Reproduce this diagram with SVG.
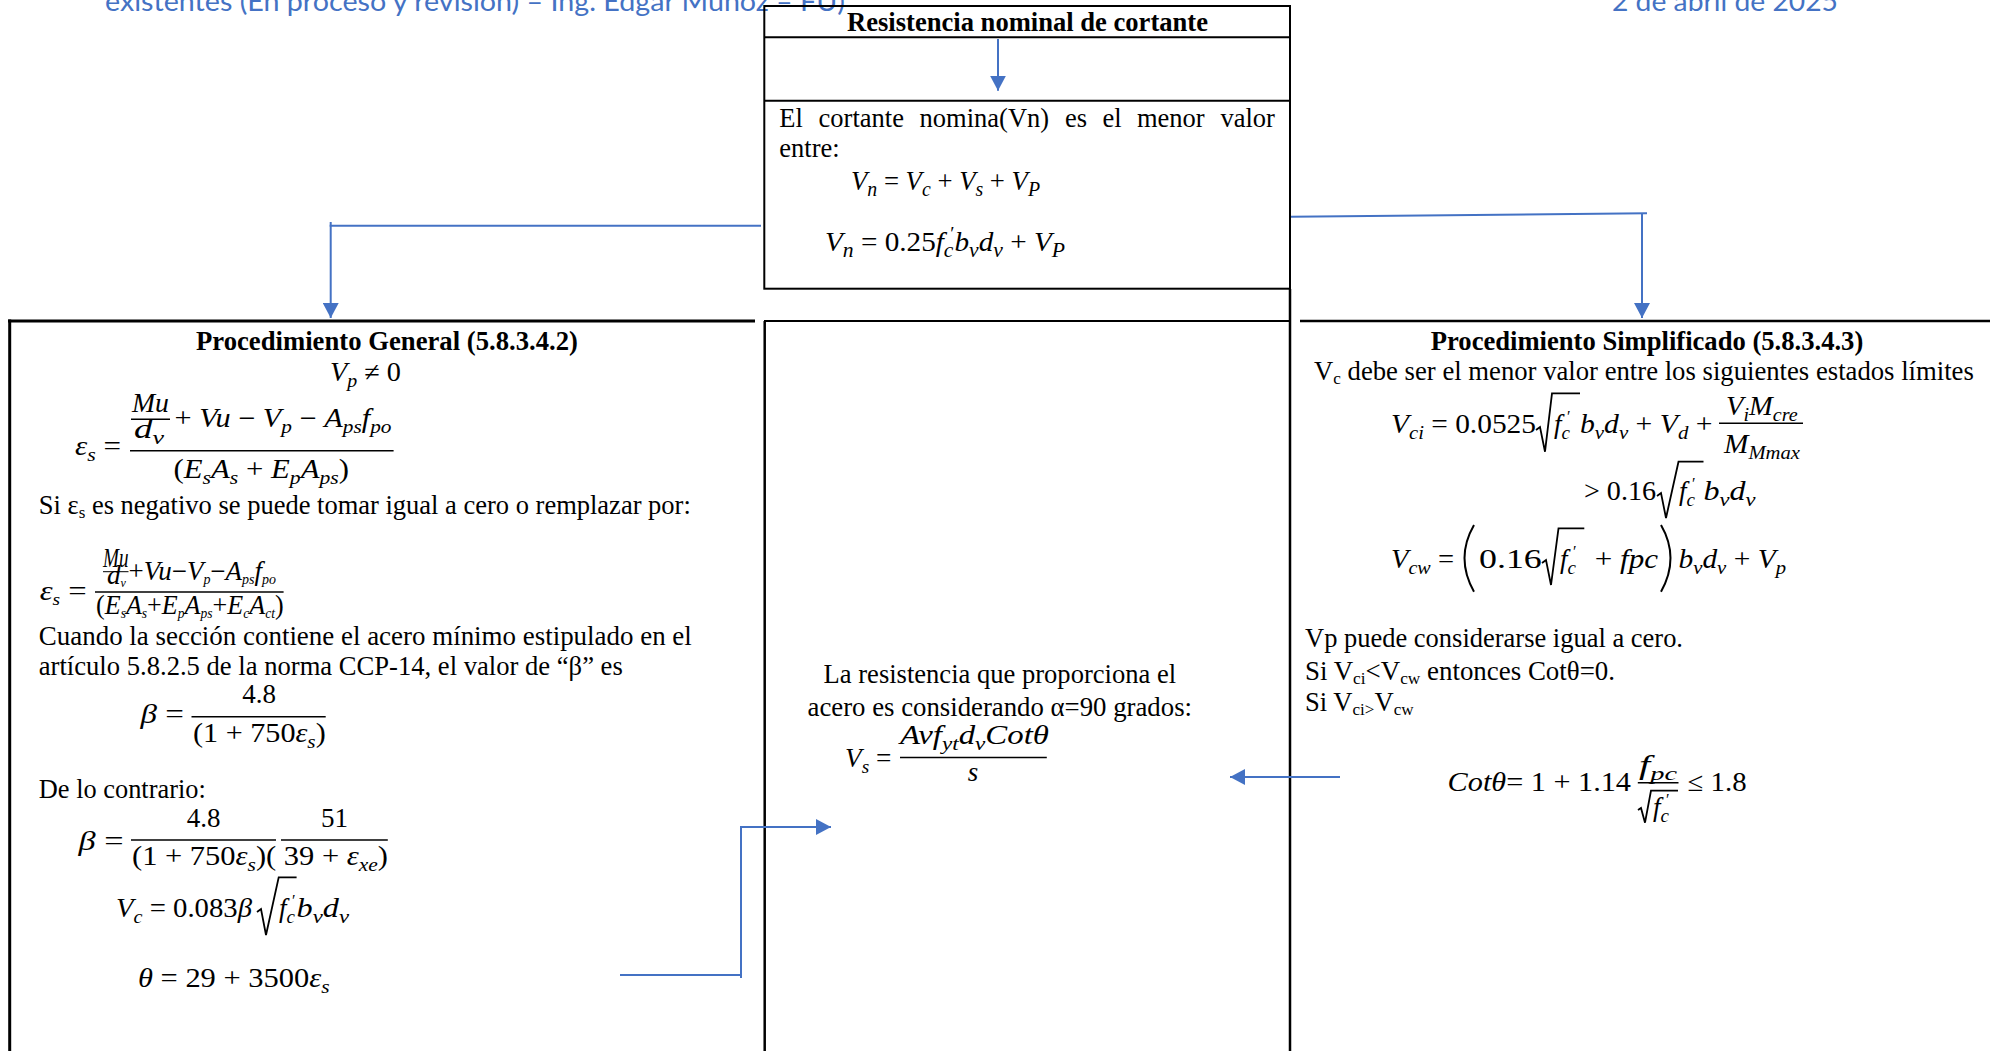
<svg xmlns="http://www.w3.org/2000/svg" width="1990" height="1051" viewBox="0 0 1990 1051">
<style>
.t{font-family:"Liberation Serif","Times New Roman",serif;font-size:26.5px;fill:#000}
.b{font-weight:bold}
.m{font-family:"Liberation Serif","Times New Roman",serif;font-style:italic;font-size:27px;fill:#000}
.u{font-style:normal}
.hd{font-family:Lato,"Open Sans",sans-serif;font-size:26px;fill:#4472C4}
.bx{fill:none;stroke:#000;stroke-width:2}
.ln{stroke:#000;fill:none}
.fr{stroke:#000;stroke-width:1.5}
.rad{fill:none;stroke:#000;stroke-width:1.8;stroke-linejoin:miter}
.cn{stroke:#4472C4;stroke-width:2;fill:none}
</style>
<defs>
<marker id="ah" markerUnits="userSpaceOnUse" markerWidth="16" markerHeight="16" refX="15" refY="8" orient="auto"><path d="M0,0 L15,8 L0,16 Z" fill="#4472C4"/></marker>
</defs>
<rect width="1990" height="1051" fill="#fff"/>

<g id="page-header">
<text class="hd" x="105" y="10.7" textLength="740" lengthAdjust="spacingAndGlyphs">existentes (En proceso y revisión) – Ing. Edgar Muñoz – FU)</text>
<text class="hd" x="1612" y="10.7" textLength="226" lengthAdjust="spacingAndGlyphs">2 de abril de 2025</text>
</g>

<g id="node-resistencia-nominal">
<rect class="bx" x="764.3" y="6" width="525.7" height="282.7"/>
<line class="ln" stroke-width="2" x1="764.3" y1="37.3" x2="1290" y2="37.3"/>
<line class="ln" stroke-width="2" x1="764.3" y1="100.7" x2="1290" y2="100.7"/>
<text class="t b" x="1027.5" y="30.5" text-anchor="middle" textLength="361" lengthAdjust="spacingAndGlyphs">Resistencia nominal de cortante</text>
<text class="t" y="126.7"><tspan x="779.3">El</tspan><tspan x="818.6">cortante</tspan><tspan x="919.6">nomina(Vn)</tspan><tspan x="1065">es</tspan><tspan x="1102.5">el</tspan><tspan x="1137">menor</tspan><tspan x="1220.4">valor</tspan></text>
<text class="t" x="779.3" y="156.7">entre:</text>
<text class="m" x="851" y="190" font-size="29" textLength="189" lengthAdjust="spacingAndGlyphs">V<tspan dy="6" font-size="20">n</tspan><tspan dy="-6" class="u"> = </tspan>V<tspan dy="6" font-size="20">c</tspan><tspan dy="-6" class="u"> + </tspan>V<tspan dy="6" font-size="20">s</tspan><tspan dy="-6" class="u"> + </tspan>V<tspan dy="6" font-size="20">P</tspan></text>
<text class="m" x="825" y="250.7" font-size="29" textLength="240" lengthAdjust="spacingAndGlyphs">V<tspan dy="6" font-size="20">n</tspan><tspan dy="-6" class="u"> = 0.25</tspan>f<tspan font-size="20" dy="6">c</tspan><tspan class="u" font-size="18" dx="-3" dy="-17">′</tspan><tspan dy="11">b</tspan><tspan dy="6" font-size="20">v</tspan><tspan dy="-6">d</tspan><tspan dy="6" font-size="20">v</tspan><tspan dy="-6" class="u"> + </tspan>V<tspan dy="6" font-size="20">P</tspan></text>
</g>

<g id="node-procedimiento-general">
<line class="ln" stroke-width="3" x1="8" y1="321" x2="755" y2="321"/>
<line class="ln" stroke-width="3" x1="9.7" y1="319.5" x2="9.7" y2="1051"/>
<text class="t b" x="387" y="350" text-anchor="middle" textLength="382" lengthAdjust="spacingAndGlyphs">Procedimiento General (5.8.3.4.2)</text>
<text class="m" x="330" y="380.7" textLength="71" lengthAdjust="spacingAndGlyphs">V<tspan dy="6" font-size="19">p</tspan><tspan dy="-6" class="u"> ≠ 0</tspan></text>
<text class="m" x="75" y="455" textLength="46" lengthAdjust="spacingAndGlyphs">ε<tspan dy="6" font-size="19">s</tspan><tspan dy="-6" class="u"> =</tspan></text>
<line class="fr" x1="130" y1="450.7" x2="393.6" y2="450.7"/>
<text class="m" x="132" y="411.7" textLength="37" lengthAdjust="spacingAndGlyphs">Mu</text>
<line class="fr" x1="131" y1="419.3" x2="170" y2="419.3"/>
<text class="m" x="134" y="438" textLength="30" lengthAdjust="spacingAndGlyphs">d<tspan dy="6" font-size="19">v</tspan></text>
<text class="m" x="174.5" y="426.7" textLength="217" lengthAdjust="spacingAndGlyphs"><tspan class="u">+ </tspan>Vu<tspan class="u"> − </tspan>V<tspan dy="6" font-size="19">p</tspan><tspan dy="-6" class="u"> − </tspan>A<tspan dy="6" font-size="19">ps</tspan><tspan dy="-6">f</tspan><tspan dy="6" font-size="19">po</tspan></text>
<text class="m" x="173.5" y="478" textLength="175.5" lengthAdjust="spacingAndGlyphs"><tspan class="u">(</tspan>E<tspan dy="6" font-size="19">s</tspan><tspan dy="-6">A</tspan><tspan dy="6" font-size="19">s</tspan><tspan dy="-6" class="u"> + </tspan>E<tspan dy="6" font-size="19">p</tspan><tspan dy="-6">A</tspan><tspan dy="6" font-size="19">ps</tspan><tspan dy="-6" class="u">)</tspan></text>
<text class="t" x="38.8" y="514" textLength="652" lengthAdjust="spacingAndGlyphs">Si ε<tspan font-size="17" dy="4">s</tspan><tspan dy="-4"> es negativo se puede tomar igual a cero o remplazar por:</tspan></text>
<text class="m" x="39.7" y="600" font-size="22" textLength="47" lengthAdjust="spacingAndGlyphs">ε<tspan dy="5" font-size="16">s</tspan><tspan dy="-5" class="u"> =</tspan></text>
<line class="ln" stroke-width="1.3" x1="95" y1="592" x2="283.6" y2="592"/>
<text class="m" x="103" y="567" font-size="15" textLength="25.5" lengthAdjust="spacingAndGlyphs">Mu</text>
<line class="ln" stroke-width="1" x1="103" y1="571.7" x2="128.5" y2="571.7"/>
<text class="m" x="107" y="584" font-size="15" textLength="19" lengthAdjust="spacingAndGlyphs">d<tspan dy="3" font-size="12">v</tspan></text>
<text class="m" x="128.5" y="580" font-size="18" textLength="147.5" lengthAdjust="spacingAndGlyphs"><tspan class="u">+</tspan>Vu<tspan class="u">−</tspan>V<tspan dy="4" font-size="14">p</tspan><tspan dy="-4" class="u">−</tspan>A<tspan dy="4" font-size="14">ps</tspan><tspan dy="-4">f</tspan><tspan dy="4" font-size="14">po</tspan></text>
<text class="m" x="96" y="614" font-size="18" textLength="187.6" lengthAdjust="spacingAndGlyphs"><tspan class="u">(</tspan>E<tspan dy="4" font-size="14">s</tspan><tspan dy="-4">A</tspan><tspan dy="4" font-size="14">s</tspan><tspan dy="-4" class="u">+</tspan>E<tspan dy="4" font-size="14">p</tspan><tspan dy="-4">A</tspan><tspan dy="4" font-size="14">ps</tspan><tspan dy="-4" class="u">+</tspan>E<tspan dy="4" font-size="14">c</tspan><tspan dy="-4">A</tspan><tspan dy="4" font-size="14">ct</tspan><tspan dy="-4" class="u">)</tspan></text>
<text class="t" x="38.8" y="645" textLength="653" lengthAdjust="spacingAndGlyphs">Cuando la sección contiene el acero mínimo estipulado en el</text>
<text class="t" x="38.8" y="675" textLength="584" lengthAdjust="spacingAndGlyphs">artículo 5.8.2.5 de la norma CCP-14, el valor de “β” es</text>
<text class="m" x="140.6" y="723" textLength="43.4" lengthAdjust="spacingAndGlyphs">β<tspan class="u"> =</tspan></text>
<line class="fr" x1="191.5" y1="716.7" x2="325.7" y2="716.7"/>
<text class="m u" x="259" y="703" text-anchor="middle">4.8</text>
<text class="m" x="193" y="741.7" textLength="132.7" lengthAdjust="spacingAndGlyphs"><tspan class="u">(1 + 750</tspan>ε<tspan dy="6" font-size="19">s</tspan><tspan dy="-6" class="u">)</tspan></text>
<text class="t" x="38.8" y="798" textLength="167" lengthAdjust="spacingAndGlyphs">De lo contrario:</text>
<text class="m" x="78.5" y="850" textLength="45" lengthAdjust="spacingAndGlyphs">β<tspan class="u"> =</tspan></text>
<line class="fr" x1="131" y1="840" x2="276" y2="840"/>
<line class="fr" x1="281" y1="840" x2="387.8" y2="840"/>
<text class="m u" x="203.6" y="826.7" text-anchor="middle">4.8</text>
<text class="m u" x="334.5" y="826.7" text-anchor="middle">51</text>
<text class="m" x="132" y="865" textLength="256" lengthAdjust="spacingAndGlyphs"><tspan class="u">(1 + 750</tspan>ε<tspan dy="6" font-size="19">s</tspan><tspan dy="-6" class="u">)( 39 + </tspan>ε<tspan dy="6" font-size="19">xe</tspan><tspan dy="-6" class="u">)</tspan></text>
<text class="m" x="116" y="916.7" textLength="136" lengthAdjust="spacingAndGlyphs">V<tspan dy="6" font-size="19">c</tspan><tspan dy="-6" class="u"> = 0.083</tspan>β</text>
<path class="rad" d="M257,912 l4,-3 L266,935 L278.7,877.3 L296.6,877.3"/>
<text class="m" x="279" y="916.7">f<tspan font-size="19" dy="6">c</tspan><tspan class="u" font-size="16" dx="-3" dy="-17">′</tspan></text>
<text class="m" x="296.6" y="916.7" textLength="52.4" lengthAdjust="spacingAndGlyphs">b<tspan dy="6" font-size="19">v</tspan><tspan dy="-6">d</tspan><tspan dy="6" font-size="19">v</tspan></text>
<text class="m" x="138" y="986.7" textLength="191.6" lengthAdjust="spacingAndGlyphs">θ<tspan class="u"> = 29 + 3500</tspan>ε<tspan dy="6" font-size="19">s</tspan></text>
</g>

<g id="node-acero">
<line class="ln" stroke-width="2" x1="764" y1="321" x2="1290" y2="321"/>
<line class="ln" stroke-width="2.5" x1="764.7" y1="321" x2="764.7" y2="1051"/>
<line class="ln" stroke-width="2.5" x1="1290" y1="289" x2="1290" y2="1051"/>
<text class="t" x="823.6" y="683" textLength="352.5" lengthAdjust="spacingAndGlyphs">La resistencia que proporciona el</text>
<text class="t" x="807.5" y="715.7" textLength="384.5" lengthAdjust="spacingAndGlyphs">acero es considerando α=90 grados:</text>
<text class="m" x="845" y="767" textLength="46.4" lengthAdjust="spacingAndGlyphs">V<tspan dy="6" font-size="19">s</tspan><tspan dy="-6" class="u"> =</tspan></text>
<line class="fr" x1="900" y1="757.4" x2="1046.8" y2="757.4"/>
<text class="m" x="900" y="744.4" textLength="149" lengthAdjust="spacingAndGlyphs">Avf<tspan dy="6" font-size="19">yt</tspan><tspan dy="-6">d</tspan><tspan dy="6" font-size="19">v</tspan><tspan dy="-6">Cotθ</tspan></text>
<text class="m" x="973" y="781" text-anchor="middle">s</text>
</g>

<g id="node-procedimiento-simplificado">
<line class="ln" stroke-width="2.5" x1="1300" y1="321" x2="1990" y2="321"/>
<text class="t b" x="1647" y="350" text-anchor="middle" textLength="432.5" lengthAdjust="spacingAndGlyphs">Procedimiento Simplificado (5.8.3.4.3)</text>
<text class="t" x="1314" y="380" textLength="659.8" lengthAdjust="spacingAndGlyphs">V<tspan font-size="17" dy="4">c</tspan><tspan dy="-4"> debe ser el menor valor entre los siguientes estados límites</tspan></text>
<text class="m" x="1391" y="433.3" textLength="145" lengthAdjust="spacingAndGlyphs">V<tspan dy="6" font-size="19">ci</tspan><tspan dy="-6" class="u"> = 0.0525</tspan></text>
<path class="rad" d="M1536,430 l4,-3 L1545,451.7 L1552,393.3 L1580,393.3"/>
<text class="m" x="1554" y="433.3">f<tspan font-size="19" dy="6">c</tspan><tspan class="u" font-size="16" dx="-3" dy="-17">′</tspan></text>
<text class="m" x="1580" y="433.3" textLength="132.5" lengthAdjust="spacingAndGlyphs">b<tspan dy="6" font-size="19">v</tspan><tspan dy="-6">d</tspan><tspan dy="6" font-size="19">v</tspan><tspan dy="-6" class="u"> + </tspan>V<tspan dy="6" font-size="19">d</tspan><tspan dy="-6" class="u"> +</tspan></text>
<line class="fr" x1="1719" y1="423.3" x2="1803" y2="423.3"/>
<text class="m" x="1726" y="415" textLength="71.7" lengthAdjust="spacingAndGlyphs">V<tspan dy="6" font-size="19">i</tspan><tspan dy="-6">M</tspan><tspan dy="6" font-size="19">cre</tspan></text>
<text class="m" x="1724" y="452.7" textLength="76" lengthAdjust="spacingAndGlyphs">M<tspan dy="6" font-size="19">Mmax</tspan></text>
<text class="m u" x="1584" y="500" textLength="72" lengthAdjust="spacingAndGlyphs">&gt; 0.16</text>
<path class="rad" d="M1657,496 l4,-3 L1666,518 L1678.5,461.7 L1703.5,461.7"/>
<text class="m" x="1679" y="500">f<tspan font-size="19" dy="6">c</tspan><tspan class="u" font-size="16" dx="-3" dy="-17">′</tspan></text>
<text class="m" x="1703.5" y="500" textLength="52" lengthAdjust="spacingAndGlyphs">b<tspan dy="6" font-size="19">v</tspan><tspan dy="-6">d</tspan><tspan dy="6" font-size="19">v</tspan></text>
<text class="m" x="1391" y="568.3" textLength="63" lengthAdjust="spacingAndGlyphs">V<tspan dy="6" font-size="19">cw</tspan><tspan dy="-6" class="u"> =</tspan></text>
<path class="ln" stroke-width="2" d="M1474,525 Q1455,558 1474,591.7"/>
<text class="m u" x="1479" y="568.3" textLength="62.8" lengthAdjust="spacingAndGlyphs">0.16</text>
<path class="rad" d="M1542,563 l4,-3 L1551,585 L1558.5,528.3 L1584.3,528.3"/>
<text class="m" x="1560" y="568.3">f<tspan font-size="19" dy="6">c</tspan><tspan class="u" font-size="16" dx="-3" dy="-17">′</tspan></text>
<text class="m" x="1594.8" y="568.3" textLength="63.2" lengthAdjust="spacingAndGlyphs"><tspan class="u">+ </tspan>fpc</text>
<path class="ln" stroke-width="2" d="M1661,525 Q1680,558 1661,591.7"/>
<text class="m" x="1678.5" y="568.3" textLength="107.5" lengthAdjust="spacingAndGlyphs">b<tspan dy="6" font-size="19">v</tspan><tspan dy="-6">d</tspan><tspan dy="6" font-size="19">v</tspan><tspan dy="-6" class="u"> + </tspan>V<tspan dy="6" font-size="19">p</tspan></text>
<text class="t" x="1305" y="646.7" textLength="378" lengthAdjust="spacingAndGlyphs">Vp puede considerarse igual a cero.</text>
<text class="t" x="1305" y="680" textLength="310" lengthAdjust="spacingAndGlyphs">Si V<tspan font-size="17" dy="4">ci</tspan><tspan dy="-4">&lt;V</tspan><tspan font-size="17" dy="4">cw</tspan><tspan dy="-4"> entonces Cotθ=0.</tspan></text>
<text class="t" x="1305" y="710.7" textLength="108.6" lengthAdjust="spacingAndGlyphs">Si V<tspan font-size="17" dy="4">ci&gt;</tspan><tspan dy="-4">V</tspan><tspan font-size="17" dy="4">cw</tspan></text>
<text class="m" x="1447.6" y="790.7" textLength="183.4" lengthAdjust="spacingAndGlyphs">Cotθ<tspan class="u">= 1 + 1.14</tspan></text>
<line class="fr" x1="1637.8" y1="782.7" x2="1678.5" y2="782.7"/>
<text class="m" x="1639" y="774" textLength="38" lengthAdjust="spacingAndGlyphs">f<tspan dy="6" font-size="19">pc</tspan></text>
<path class="rad" d="M1638,810 l3,-2 L1645,822.7 L1651,790.7 L1678,790.7"/>
<text class="m" x="1653" y="816">f<tspan font-size="19" dy="6">c</tspan><tspan class="u" font-size="16" dx="-3" dy="-17">′</tspan></text>
<text class="m u" x="1687.6" y="790.7" textLength="59" lengthAdjust="spacingAndGlyphs">≤ 1.8</text>
</g>

<g id="connectors">
<line class="cn" x1="998" y1="39" x2="998" y2="90.7" marker-end="url(#ah)"/>
<line class="cn" x1="761" y1="225.7" x2="329.7" y2="225.7"/>
<line class="cn" x1="330.7" y1="222" x2="330.7" y2="318" marker-end="url(#ah)"/>
<line class="cn" x1="1291" y1="216.7" x2="1647" y2="213.3"/>
<line class="cn" x1="1642" y1="213.5" x2="1642" y2="318" marker-end="url(#ah)"/>
<line class="cn" x1="620" y1="975" x2="742" y2="975"/>
<line class="cn" x1="741" y1="978" x2="741" y2="826"/>
<line class="cn" x1="740" y1="827" x2="831" y2="827" marker-end="url(#ah)"/>
<line class="cn" x1="1340" y1="777" x2="1230" y2="777" marker-end="url(#ah)"/>
</g>
</svg>
